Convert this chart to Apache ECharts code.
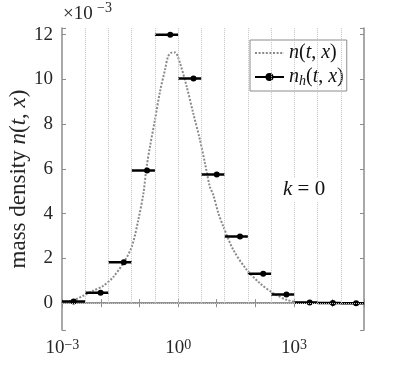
<!DOCTYPE html>
<html>
<head>
<meta charset="utf-8">
<script src="https://cdn.jsdelivr.net/npm/echarts@6/dist/echarts.min.js"></script>
<style>
  html, body { margin: 0; padding: 0; background: #fff; }
  #chart { width: 409px; height: 388px; }
</style>
</head>
<body>
<div id="chart"></div>
<script>
  // bin edges (powers of 4, first bin clipped at axis min 2^-10)
  const binEdges = [0.0009765625, 0.00390625, 0.015625, 0.0625, 0.25, 1, 4, 16, 64, 256, 1024, 4096, 16384, 65536]
  // marker positions (bin midpoints)
  const binMids = [0.001953125, 0.009765625, 0.0390625, 0.15625, 0.625, 2.5, 10, 40, 160, 640, 2560, 10240, 40960]
  // n_h(t,x), in units of 1e-3
  const nhValues = [0.07, 0.47, 1.83, 5.93, 12.0, 10.04, 5.75, 2.98, 1.32, 0.39, 0.03, 0.005, 0.0]
  // n(t,x) curve samples, x and value (1e-3)
  const curveX = [0.000977, 0.00186, 0.00347, 0.00617, 0.0115, 0.0204, 0.038, 0.063, 0.093, 0.126, 0.151, 0.186,
    0.251, 0.339, 0.457, 0.55, 0.676, 0.83, 1.11, 1.66, 2.45, 3.67, 4.95, 6.6, 8.1, 11.0, 14.8, 26.9, 60, 132,
    288, 646, 1445, 4000, 65536]
  const curveY = [0.03, 0.12, 0.33, 0.55, 0.78, 1.15, 1.79, 2.53, 3.73, 4.92, 6.04, 7.0,
    8.2, 9.47, 10.44, 11.03, 11.2, 11.21, 10.74, 9.69, 8.5, 7.3, 6.26, 5.22, 4.85, 4.03, 3.43, 2.38, 1.49, 0.89,
    0.45, 0.15, 0.03, 0.005, 0]
  const xMin = 0.0009765625
  const xMax = 65536
  const yMin = -1.2
  const yMax = 12.3

  const serif = 'Liberation Serif'
  const baseStyle = { fontFamily: serif, fontSize: 19, fontWeight: 'normal', color: '#262626' }
  const supStyle = { fontFamily: serif, fontSize: 14, fontWeight: 'normal', color: '#262626', verticalAlign: 'top', padding: [0, 0, 6, 0] }

  let chart = echarts.init(document.getElementById('chart'))

  let curveData = curveX.map((x, i) => [x, curveY[i]])
  let barData = []
  nhValues.forEach((v, i) => {
    barData.push({ value: [binEdges[i], v], symbol: 'none' })
    barData.push({ value: [binMids[i], v] })
    barData.push({ value: [binEdges[i + 1], v], symbol: 'none' })
    barData.push(['-', '-'])
  })

  let gridLines = binEdges.slice(1, -1).map(e => [{ coord: [e, 0] }, { coord: [e, yMax] }])
  gridLines.push([{ coord: [xMin, 0] }, { coord: [xMax, 0] }])

  let logLabel = function (v) {
    let e = Math.log10(v)
    let r = Math.round(e)
    if (Math.abs(e - r) > 1e-6 || r % 3 !== 0) return ''
    return '{b|10}{s|' + String(r).replace('-', '−') + '}'
  }

  let axisLine = { show: true, lineStyle: { color: '#8c8c8c', width: 1.5 } }
  let tickIn = { show: true, inside: true, length: 4, lineStyle: { color: '#8c8c8c' } }

  let option = {
    animation: false,
    grid: { left: 62, right: 45, top: 28, bottom: 58, outerBoundsMode: 'none', containLabel: false },
    xAxis: [
      {
        type: 'log', min: xMin, max: xMax, position: 'bottom',
        axisLine: axisLine, axisTick: tickIn, splitLine: { show: false },
        axisLabel: {
          margin: 8, color: '#262626', formatter: logLabel,
          rich: { b: baseStyle, s: supStyle }
        }
      },
      {
        type: 'log', min: xMin, max: xMax, position: 'top',
        axisLine: axisLine, axisTick: tickIn, axisLabel: { show: false }, splitLine: { show: false }
      }
    ],
    yAxis: [
      {
        type: 'value', min: yMin, max: yMax, splitNumber: 7, minInterval: 2, maxInterval: 2,
        axisLine: axisLine, axisTick: tickIn, splitLine: { show: false },
        axisLabel: {
          margin: 9, fontFamily: serif, fontSize: 19, color: '#262626',
          formatter: v => (Math.abs(v % 2) < 1e-9 ? String(v) : '')
        },
        name: 'mass density {i|n}({i|t}, {i|x})',
        nameLocation: 'middle', nameGap: 32, nameMoveOverlap: false,
        nameTextStyle: {
          fontFamily: serif, fontSize: 23, color: '#262626',
          rich: { i: { fontFamily: serif, fontSize: 23, fontStyle: 'italic', color: '#262626' } }
        }
      },
      {
        type: 'value', min: yMin, max: yMax, splitNumber: 7, minInterval: 2, maxInterval: 2, position: 'right',
        axisLine: axisLine, axisTick: tickIn, axisLabel: { show: false }, splitLine: { show: false }
      }
    ],
    legend: {
      data: [{ name: 'n(t,x)', itemStyle: { opacity: 0 } }, 'nh(t,x)'],
      left: 250, top: 40, orient: 'vertical',
      itemWidth: 29, itemHeight: 10, itemGap: 4,
      padding: [3, 3, 3, 4],
      borderColor: '#8c8c8c', borderWidth: 1, borderRadius: 0, backgroundColor: '#fff',
      formatter: name => (name === 'n(t,x)' ? '{i|n}({i|t}, {i|x})' : '{i|n}{h|h}({i|t}, {i|x})'),
      textStyle: {
        fontFamily: serif, fontSize: 20, color: '#111',
        rich: {
          i: { fontFamily: serif, fontSize: 20, fontStyle: 'italic', color: '#111' },
          h: { fontFamily: serif, fontSize: 14, fontStyle: 'italic', color: '#111', verticalAlign: 'bottom', padding: [8, 0, 0, 0] }
        }
      }
    },
    graphic: [
      {
        type: 'text', left: 63, top: 5,
        style: { text: '×10', font: '19px "Liberation Serif"', fill: '#262626' }
      },
      {
        type: 'text', left: 97, top: 1,
        style: { text: '−3', font: '14px "Liberation Serif"', fill: '#262626' }
      },
      {
        type: 'text', left: 280, top: 178, z: 10,
        style: {
          text: '{i|k} = 0', font: '21px "Liberation Serif"', fill: '#111',
          backgroundColor: '#fff', padding: [1, 3],
          rich: { i: { font: 'italic 21px "Liberation Serif"', fill: '#111' } }
        }
      }
    ],
    series: [
      {
        name: 'grid', type: 'line', data: [], silent: true,
        markLine: {
          silent: true, symbol: ['none', 'none'], label: { show: false },
          lineStyle: { color: '#c4c4c4', type: 'dotted', width: 1 },
          data: gridLines
        }
      },
      {
        name: 'n(t,x)', type: 'line', data: curveData, smooth: 0.3,
        symbol: 'none', color: '#8a8a8a',
        lineStyle: { color: '#8a8a8a', width: 2, type: [2, 1.6] }
      },
      {
        name: 'nh(t,x)', type: 'line', data: barData, connectNulls: false,
        symbol: 'circle', symbolSize: 6, color: '#000',
        itemStyle: { color: '#000' },
        lineStyle: { color: '#000', width: 2.5 }
      }
    ]
  }

  chart.setOption(option)
</script>
</body>
</html>
